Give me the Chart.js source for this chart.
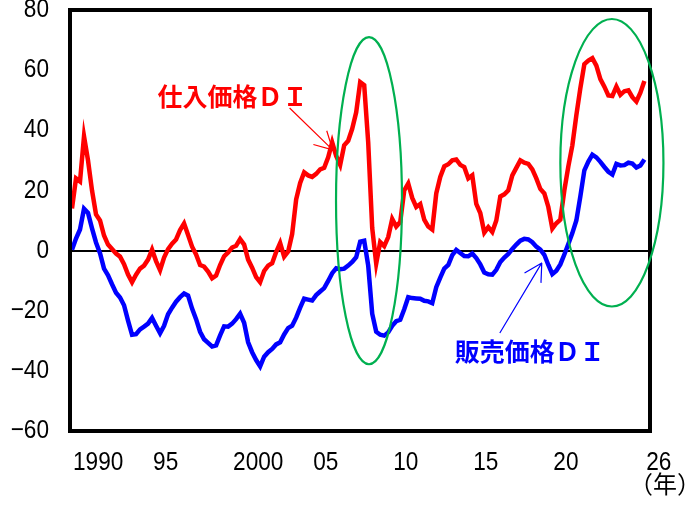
<!DOCTYPE html>
<html>
<head>
<meta charset="utf-8">
<script src="https://cdn.jsdelivr.net/npm/chart.js@4.4.1/dist/chart.umd.min.js"></script>
<style>
    html, body { margin: 0; padding: 0; background: #fff; }
    #wrap { width: 697px; height: 506px; }
</style>
</head>
<body>
<div id="wrap"><canvas id="priceChart" width="697" height="506"></canvas></div>
<script>
// 短観 価格判断ＤＩ（四半期、1990年1Q～）
const startYear = 1990;

const inputPriceDI = [
    14, 24, 23, 38, 30, 20, 12, 10, 5, 2,
    0.5, -1, -2, -4.5, -8, -10.5, -8, -6, -5, -3,
    0.3, -3.5, -6.5, -2.3, 0.5, 2.3, 3.7, 6.8, 9, 5.2,
    1.3, -1.3, -4.8, -5.3, -7, -9.2, -8.3, -4.8, -1.9, -0.6,
    1, 1.6, 3.8, 2, -3, -5.7, -8.8, -10.5, -6.8, -5,
    -4.2, -0.5, 2.5, -2, -0.3, 5.5, 17, 22.5, 26, 25,
    24.5, 25.5, 27, 27.5, 31, 36, 31.5, 28.5, 35, 36.5,
    40.5, 46, 56, 55, 36, 7.5, -4.3, 2.8, 1.5, 4.5,
    10.5, 8, 9.5, 20, 22.3, 17.5, 14.5, 15.5, 10.3, 8,
    7, 19, 24.5, 28, 28.7, 30, 30.3, 28.5, 27.8, 24,
    25, 15.5, 12.5, 6, 7.8, 6.2, 10, 18, 18.7, 20,
    25, 27.5, 30, 29.2, 28.8, 27, 24, 20.5, 19, 14.5,
    7.3, 9.1, 10.3, 20, 28, 35, 45, 54, 62, 63.2,
    64, 61.5, 57, 54.5, 51.6, 51.4, 54.5, 51.8, 53, 53.3,
    51, 49.6, 52.5, 56.4
];

const outputPriceDI = [
    0.3, 4, 7, 13.9, 12.5, 7.4, 2.7, -0.9, -6, -8.2,
    -11.2, -14, -15.6, -18.2, -23.3, -28, -27.8, -26.2, -25.3, -24.3,
    -22.4, -25, -27.5, -25, -21.2, -19, -17, -15.5, -14.3, -15,
    -19.3, -22.8, -27, -29.5, -30.7, -31.9, -31.5, -28.2, -25.2, -25.3,
    -24.3, -22.8, -21, -24, -30.5, -33.8, -36.4, -38.5, -35.3, -33.8,
    -32.7, -31.2, -30.5, -27.9, -25.8, -25, -22.3, -19, -16, -16.3,
    -16.6, -14.8, -13.6, -12.5, -10.1, -7.5, -5.9, -6.2, -6, -5,
    -3.8, -2.2, 3, 3.3, -5, -21, -27, -28, -28.3, -27.2,
    -25, -23.5, -23, -19.5, -15.5, -15.8, -15.9, -16, -16.7, -16.9,
    -17.5, -12.2, -9, -6, -4.8, -1.5, 0.2, -0.8, -1.8, -1.9,
    -1, -2.5, -4.6, -7.3, -7.9, -8, -6.4, -3.8, -2.3, -1.1,
    0.5, 2, 3.3, 3.9, 3.7, 2.8, 1.3, 0.3, -1.4, -4.8,
    -7.8, -6.7, -4.6, -1.3, 2.2, 5.8, 10, 18, 26.7, 29.6,
    31.9, 31, 29.5, 27.8, 26.2, 25.3, 28.8, 28.3, 28.4, 29.2,
    28.9, 27.6, 28.3, 30.3
];

const tickYears = [1990, 1995, 2000, 2005, 2010, 2015, 2020, 2025.8];
const tickLabels = ['1990', '95', '2000', '05', '10', '15', '20', '26'];

// quarter positions on the time axis
const quarters = inputPriceDI.map((_, i) => startYear + i / 4);

const numFont = "'Liberation Sans', sans-serif";
const jpFont = "'Noto Sans CJK JP', sans-serif";
const narrow = 0.87; // tick digits are narrower than Liberation Sans

// 囲み・矢印・ラベル（軸の単位で指定）
const rings = [
    { x: 2008.55, y: 16.6, rx: 2.06, ry: 54.4 },
    { x: 2023.72, y: 29.2, rx: 3.22, ry: 47.8 }
];
const notes = [
    { text: '仕入価格ＤＩ', color: '#ff0000', x: 1995.34, y: 51.4,
      from: [2003.59, 47.4], to: [2006.28, 33.5] },
    { text: '販売価格ＤＩ', color: '#0000ff', x: 2013.9, y: -33.6,
      from: [2016.72, -27.4], to: [2019.34, -4.1] }
];

function toPoints(values) {
    return values.map((v, i) => ({ x: quarters[i], y: v }));
}

function narrowText(ctx, text, x, y, align) {
    ctx.save();
    ctx.translate(x, y);
    ctx.scale(narrow, 1);
    ctx.textAlign = align;
    ctx.fillText(text, 0, 0);
    ctx.restore();
}

const decorPlugin = {
    id: 'decor',
    afterDatasetsDraw(chart) {
        const { ctx, chartArea: a } = chart;
        ctx.save();
        ctx.strokeStyle = '#000';
        ctx.lineWidth = 4;
        ctx.strokeRect(a.left, a.top, a.right - a.left, a.bottom - a.top);
        ctx.restore();
    },
    afterDraw(chart) {
        const { ctx, chartArea: a } = chart;
        const xs = chart.scales.x, ys = chart.scales.y;

        ctx.save();
        // tick labels
        ctx.fillStyle = '#000';
        ctx.font = '26px ' + numFont;
        ctx.textBaseline = 'middle';
        ys.ticks.forEach(t => {
            const label = t.value < 0 ? '\u2212' + Math.abs(t.value) : String(t.value);
            narrowText(ctx, label, a.left - 21, ys.getPixelForValue(t.value), 'right');
        });
        tickYears.forEach((v, i) => {
            narrowText(ctx, tickLabels[i], xs.getPixelForValue(v) + 1, a.bottom + 32, 'left');
        });

        ctx.strokeStyle = '#00b050';
        ctx.lineWidth = 2.2;
        rings.forEach(r => {
            const cx = xs.getPixelForValue(r.x), cy = ys.getPixelForValue(r.y);
            const rx = xs.getPixelForValue(r.x + r.rx) - cx;
            const ry = cy - ys.getPixelForValue(r.y + r.ry);
            ctx.beginPath();
            ctx.ellipse(cx, cy, rx, ry, 0, 0, Math.PI * 2);
            ctx.stroke();
        });

        notes.forEach(n => {
            const x1 = xs.getPixelForValue(n.from[0]), y1 = ys.getPixelForValue(n.from[1]);
            const x2 = xs.getPixelForValue(n.to[0]), y2 = ys.getPixelForValue(n.to[1]);
            const ang = Math.atan2(y1 - y2, x1 - x2);
            ctx.strokeStyle = n.color;
            ctx.lineWidth = 1.2;
            ctx.beginPath();
            ctx.moveTo(x1, y1);
            ctx.lineTo(x2, y2);
            [0.5, -0.5].forEach(d => {
                ctx.moveTo(x2, y2);
                ctx.lineTo(x2 + 20 * Math.cos(ang + d), y2 + 20 * Math.sin(ang + d));
            });
            ctx.stroke();

            ctx.fillStyle = n.color;
            ctx.font = 'bold 25px ' + jpFont;
            ctx.textAlign = 'left';
            ctx.textBaseline = 'middle';
            ctx.fillText(n.text, xs.getPixelForValue(n.x), ys.getPixelForValue(n.y));
        });

        ctx.fillStyle = '#000';
        ctx.font = '24px ' + jpFont;
        ctx.textAlign = 'left';
        ctx.textBaseline = 'middle';
        ctx.fillText('（年）', 629, 484);
        ctx.restore();
    }
};

new Chart(document.getElementById('priceChart').getContext('2d'), {
    type: 'line',
    data: {
        datasets: [
            {
                label: '仕入価格ＤＩ',
                data: toPoints(inputPriceDI),
                borderColor: '#ff0000',
                borderWidth: 4.5,
                pointRadius: 0,
                tension: 0
            },
            {
                label: '販売価格ＤＩ',
                data: toPoints(outputPriceDI),
                borderColor: '#0000ff',
                borderWidth: 4.5,
                pointRadius: 0,
                tension: 0
            }
        ]
    },
    options: {
        responsive: false,
        animation: false,
        layout: { padding: { top: 10, right: 47, left: 0, bottom: 0 } },
        plugins: {
            legend: { display: false },
            tooltip: { enabled: false }
        },
        scales: {
            x: {
                type: 'linear',
                min: 1989.875,
                max: 2026.1,
                afterBuildTicks: function(scale) {
                    scale.ticks = tickYears.map(v => ({ value: v }));
                },
                afterFit: function(scale) {
                    scale.height = 75;
                    scale.paddingLeft = 0;
                    scale.paddingRight = 0;
                },
                grid: { display: false, drawTicks: false },
                border: { display: false },
                ticks: {
                    autoSkip: false,
                    maxRotation: 0,
                    color: 'rgba(0,0,0,0)',
                    font: { family: numFont, size: 26 }
                }
            },
            y: {
                min: -60,
                max: 80,
                afterFit: function(scale) {
                    scale.width = 70;
                    scale.paddingTop = 0;
                    scale.paddingBottom = 0;
                },
                grid: {
                    drawTicks: false,
                    color: ctx => ctx.tick && ctx.tick.value === 0 ? '#000' : 'rgba(0,0,0,0)',
                    lineWidth: 2
                },
                border: { display: false },
                ticks: {
                    stepSize: 20,
                    color: 'rgba(0,0,0,0)',
                    font: { family: numFont, size: 26 }
                }
            }
        }
    },
    plugins: [decorPlugin]
});
</script>
</body>
</html>
